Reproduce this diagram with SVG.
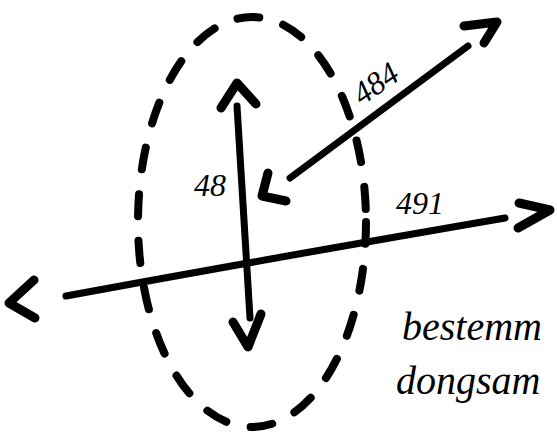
<svg xmlns="http://www.w3.org/2000/svg" width="557" height="438" viewBox="0 0 557 438">
<style>
.ln{fill:none;stroke:#000;stroke-width:7;stroke-linecap:round;stroke-linejoin:round}
.hd{fill:none;stroke:#000;stroke-width:9;stroke-linecap:round;stroke-linejoin:round}
.dash{fill:none;stroke:#000;stroke-width:8;stroke-linecap:round;stroke-dasharray:22 25}
.lbl{font-family:"Liberation Serif",serif;font-style:italic;fill:#000}
</style>
<rect width="557" height="438" fill="#fff"/>
<g id="zone">
<ellipse class="dash" cx="252" cy="222" rx="114" ry="205"/>
</g>
<g id="connectors">
<g id="arrow-48">
<path class="ln" d="M237,106 L250,318"/>
<polyline class="hd" points="221,108 237,83 256,104"/>
<polyline class="hd" points="233,322 248,347 261,314"/>
</g>
<g id="arrow-491">
<path class="ln" d="M66,296 Q250,262 505,218"/>
<polyline class="hd" points="34,280 9,303 35,318"/>
<polyline class="hd" points="519,203 550,210 518,228"/>
</g>
<g id="arrow-484">
<path class="ln" d="M290,178 L468,46"/>
<polyline class="hd" points="464,26 497,22 484,43"/>
<polyline class="hd" points="268,173 262,196 286,201"/>
</g>
</g>
<g id="label-48"><text class="lbl" x="194" y="196" font-size="32">48</text></g>
<g id="label-484"><text class="lbl" x="362" y="106" font-size="32" transform="rotate(-35 362 106)">484</text></g>
<g id="label-491"><text class="lbl" x="396" y="214" font-size="32">491</text></g>
<g id="note">
<text class="lbl" x="402" y="340" font-size="40">bestemm</text>
<text class="lbl" x="396" y="394" font-size="40">dongsam</text>
</g>
</svg>
